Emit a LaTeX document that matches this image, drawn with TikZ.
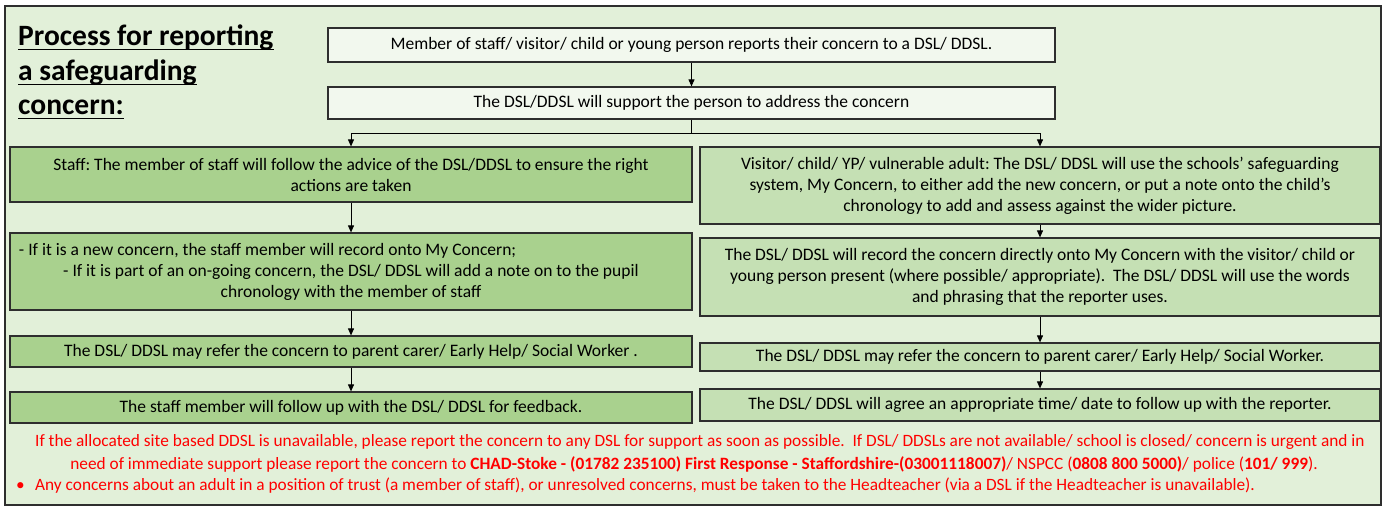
\documentclass[tikz,border=0pt]{standalone}
\usepackage{fontspec}
\setmainfont{Carlito}
\usetikzlibrary{arrows.meta}
\definecolor{bgc}{HTML}{E2F0D9}
\definecolor{topc}{HTML}{F2F8EE}
\definecolor{leftc}{HTML}{A9D18E}
\definecolor{rightc}{HTML}{C5E0B4}
\definecolor{bord}{HTML}{2E2E2E}
\definecolor{redt}{HTML}{FF0000}
\frenchspacing
\begin{document}
\begin{tikzpicture}[x=1pt,y=-1pt,
  box/.style={draw=bord,line width=1.2pt,inner sep=0pt,align=center,
    font=\fontsize{17.5}{21}\selectfont},
  topbox/.style={box,fill=topc},
  lbox/.style={box,fill=leftc},
  rbox/.style={box,fill=rightc},
  arr/.style={draw=black,line width=0.9pt,-{Triangle[width=6pt,length=7pt]}},
  ttl/.style={anchor=base west,inner sep=0pt,font=\fontsize{29.5}{30}\selectfont\bfseries},
  uln/.style={line width=1.8pt},
  red/.style={inner sep=0pt,text=redt,font=\fontsize{17.3}{20}\selectfont},
]
\useasboundingbox (0,0) rectangle (1385,507);
\draw[fill=bgc,draw=bord,line width=1.2pt] (5,6) rectangle (1381,505);

% title
\node[ttl] (t1) at (18,45) {Process for reporting};
\node[ttl] (t2l) at (18,80) {a safeguarding};
\node[ttl] (t3) at (18,114) {concern:};
\draw[uln] ([yshift=-4.5pt]t1.base west) -- ([yshift=-4.5pt]t1.base east);
\draw[uln] ([yshift=-4.5pt]t2l.base west) -- ([yshift=-4.5pt]t2l.base east);
\draw[uln] ([yshift=-4.5pt]t3.base west) -- ([yshift=-4.5pt]t3.base east);

% top boxes
\node[topbox,minimum width=727pt,minimum height=34pt] (A) at (691.5,45)
  {Member of staff/ visitor/ child or young person reports their concern to a DSL/ DDSL.};
\node[topbox,minimum width=727pt,minimum height=32pt] (B) at (691.5,103)
  {The DSL/DDSL will support the person to address the concern};

% left column
\node[lbox,minimum width=682pt,minimum height=55pt] (L1) at (351,174.5)
  {Staff: The member of staff will follow the advice of the DSL/DDSL to ensure the right\\actions are taken};
\node[lbox,minimum width=682pt,minimum height=77pt] (L2) at (351,271.5)
  {\makebox[664pt][l]{- If it is a new concern, the staff member will record onto My Concern;}\\
   - If it is part of an on-going concern, the DSL/ DDSL will add a note on to the pupil\\
   chronology with the member of staff};
\node[lbox,minimum width=682pt,minimum height=31pt] (L3) at (351,351.5)
  {The DSL/ DDSL may refer the concern to parent carer/ Early Help/ Social Worker .};
\node[lbox,minimum width=682pt,minimum height=31pt] (L4) at (351,407.5)
  {The staff member will follow up with the DSL/ DDSL for feedback.};

% right column
\node[rbox,minimum width=680pt,minimum height=77pt] (R1) at (1040,185.5)
  {Visitor/ child/ YP/ vulnerable adult: The DSL/ DDSL will use the schools’ safeguarding\\
   system, My Concern, to either add the new concern, or put a note onto the child’s\\
   chronology to add and assess against the wider picture.};
\node[rbox,minimum width=680pt,minimum height=78pt] (R2) at (1040,277)
  {The DSL/ DDSL will record the concern directly onto My Concern with the visitor/ child or\\
   young person present (where possible/ appropriate).\ \ The DSL/ DDSL will use the words\\
   and phrasing that the reporter uses.};
\node[rbox,minimum width=680pt,minimum height=28pt] (R3) at (1040,357)
  {The DSL/ DDSL may refer the concern to parent carer/ Early Help/ Social Worker.};
\node[rbox,minimum width=680pt,minimum height=32pt] (R4) at (1040,405)
  {The DSL/ DDSL will agree an appropriate time/ date to follow up with the reporter.};

% connectors
\coordinate (J) at ([yshift=-14pt]B.south);
\draw[arr] (A) -- (B);
\draw[line width=0.9pt] (B.south) -- (J);
\draw[arr] (J) -| (L1.north);
\draw[arr] (J) -| (R1.north);
\draw[arr] (L1) -- (L2);
\draw[arr] (L2) -- (L3);
\draw[arr] (L3) -- (L4);
\draw[arr] (R1) -- (R2);
\draw[arr] (R2) -- (R3);
\draw[arr] (R3) -- (R4);

% red notes
\node[red,anchor=base] (n1) at (700,446)
  {If the allocated site based DDSL is unavailable, please report the concern to any DSL for support as soon as possible.\ \ If DSL/ DDSLs are not available/ school is closed/ concern is urgent and in};
\node[red,anchor=base] (n2) at (694,469)
  {need of immediate support please report the concern to \textbf{CHAD-Stoke - (01782 235100) First Response - Staffordshire-(03001118007)}/ NSPCC (\textbf{0808 800 5000)}/ police (\textbf{101/ 999}).};
\node[red,anchor=base west] (n3) at (16,490)
  {\makebox[19pt][l]{•}Any concerns about an adult in a position of trust (a member of staff), or unresolved concerns, must be taken to the Headteacher (via a DSL if the Headteacher is unavailable).};
\end{tikzpicture}
\end{document}
